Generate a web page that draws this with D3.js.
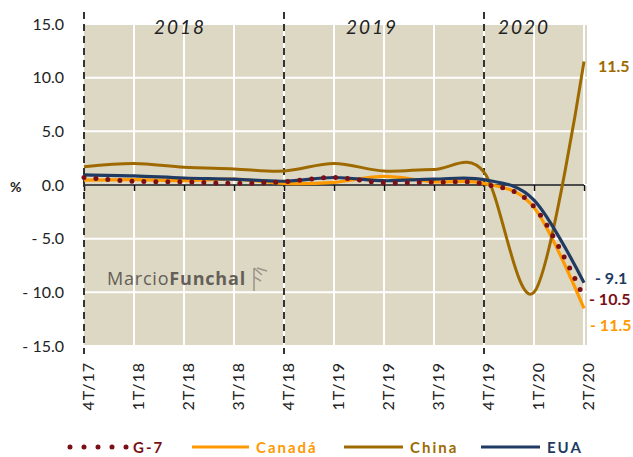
<!DOCTYPE html>
<html><head><meta charset="utf-8">
<script src="https://cdn.jsdelivr.net/npm/d3@7"></script>
<style>body{margin:0;background:#fff}svg{display:block}</style>
</head><body>
<script>
const categories = ["4T/17","1T/18","2T/18","3T/18","4T/18","1T/19","2T/19","3T/19","4T/19","1T/20","2T/20"];
const g7     = [0.7, 0.35, 0.3, 0.15, 0.3, 0.7, 0.2, 0.25, 0.1, -2.0, -10.5];
const canada = [0.45, 0.5, 0.4, 0.55, 0.15, 0.25, 0.8, 0.3, 0.15, -2.1, -11.5];
const china  = [1.7, 2.0, 1.65, 1.5, 1.3, 2.0, 1.3, 1.45, 1.2, -10.0, 11.5];
const eua    = [0.95, 0.85, 0.65, 0.55, 0.35, 0.7, 0.4, 0.55, 0.5, -1.4, -9.1];
const yTicks = [15, 10, 5, 0, -5, -10, -15];
const years = ["2018", "2019", "2020"];
const yearCenters = [[0,4],[4,8],[8,10]];
const seriesNames = ["G-7","Canadá","China","EUA"];

const colors = {g7:"#7a1016", canada:"#ff9900", china:"#9e6a00", eua:"#1f3a63"};

const W=633,H=457;
const svg = d3.select("body").append("svg").attr("width",W).attr("height",H);
const x = d3.scalePoint().domain(categories).range([84,584]);
const y = d3.scaleLinear().domain([-15,15]).range([346,24]);

// plot background
svg.append("rect").attr("x",x(categories[0])).attr("y",y(15))
  .attr("width",x(categories[categories.length-1])-x(categories[0])+3)
  .attr("height",y(-15)-y(15)).attr("fill","#ddd8c4");

// gridlines
svg.append("g").selectAll("line").data(yTicks).join("line")
  .attr("x1",x(categories[0])).attr("x2",x(categories[categories.length-1])+3)
  .attr("y1",d=>y(d)).attr("y2",d=>y(d)).attr("stroke","#fff").attr("stroke-width",2);
svg.append("g").selectAll("line").data(categories.slice(1)).join("line")
  .attr("x1",d=>x(d)).attr("x2",d=>x(d)).attr("y1",y(15)).attr("y2",y(-15))
  .attr("stroke","#fff").attr("stroke-width",2);

// x axis at zero
const xAxis = svg.append("g").attr("transform",`translate(0,${y(0)})`)
  .call(d3.axisBottom(x).tickSize(6).tickFormat(""));
xAxis.select(".domain").attr("stroke","#111").attr("stroke-width",1.5).attr("d",`M${x(categories[0])},0H${x(categories[categories.length-1])}`);
xAxis.selectAll(".tick line").attr("stroke","#111").attr("stroke-width",1.5);

// dashed year separators
svg.append("g").selectAll("line").data(["4T/17","4T/18","4T/19"]).join("line")
  .attr("x1",d=>x(d)).attr("x2",d=>x(d)).attr("y1",12).attr("y2",354)
  .attr("stroke","#333").attr("stroke-width",2).attr("stroke-dasharray","7,5");

// year labels
svg.append("g").selectAll("text").data(years).join("text")
  .attr("x",(d,i)=>(x(categories[yearCenters[i][0]])+x(categories[yearCenters[i][1]]))/2 + (i===2? -10: i===1? -12: -4))
  .attr("y",34).attr("text-anchor","middle")
  .attr("font-family","Lato, 'Open Sans', sans-serif").attr("font-style","italic")
  .attr("font-size",19).attr("letter-spacing",2).attr("fill","#222").text(d=>d);

// y axis labels
const fmt = v => v<0 ? "- "+Math.abs(v).toFixed(1) : v.toFixed(1);
const yAxis = svg.append("g").attr("transform","translate(68,0)")
  .call(d3.axisLeft(y).tickValues(yTicks).tickSize(0).tickPadding(4).tickFormat(fmt));
yAxis.select(".domain").remove();
yAxis.selectAll("text").attr("font-family","Lato, sans-serif").attr("font-size",16).attr("fill","#222");
svg.append("text").attr("x",10).attr("y",192).attr("font-family","Lato, sans-serif")
  .attr("font-weight","bold").attr("font-size",14).attr("fill","#222").text("%");

// x tick labels rotated
svg.append("g").selectAll("text").data(categories).join("text")
  .attr("transform",d=>`translate(${x(d)+4},362) rotate(-90)`)
  .attr("text-anchor","end").attr("dy","0.35em")
  .attr("font-family","Lato, sans-serif").attr("font-size",16).attr("letter-spacing",1)
  .attr("fill","#222").text(d=>d);

// watermark
const wm = svg.append("text").attr("x",107).attr("y",285)
  .attr("font-family","'Open Sans', sans-serif").attr("font-size",18).attr("letter-spacing",0.8)
  .attr("fill","#4f4a44").attr("opacity",0.85);
wm.append("tspan").text("Marcio");
wm.append("tspan").attr("font-weight","bold").text("Funchal");
svg.append("path").attr("d","M254,268V291M254,268L262,275M257,268L267,271M254,277L261,281")
  .attr("stroke","#8a827a").attr("stroke-width",1.5).attr("fill","none").attr("opacity",0.8);

// lines
const line = d3.line().x((d,i)=>x(categories[i])).y(d=>y(d)).curve(d3.curveCardinal.tension(0));
const plot = svg.append("g");
plot.append("path").datum(canada).attr("d",line).attr("fill","none").attr("stroke",colors.canada).attr("stroke-width",3.2);
plot.append("path").datum(china).attr("d",line).attr("fill","none").attr("stroke",colors.china).attr("stroke-width",3);
plot.append("path").datum(eua).attr("d",line).attr("fill","none").attr("stroke",colors.eua).attr("stroke-width",3.2);
plot.append("path").datum(g7).attr("d",line).attr("fill","none").attr("stroke",colors.g7).attr("stroke-width",5)
  .attr("stroke-linecap","round").attr("stroke-dasharray","0,12");

// end labels
const last = categories.length-1;
const endLabels = [
  {v:china[last], c:colors.china, dx:14, dy:10},
  {v:eua[last], c:colors.eua, dx:11, dy:1},
  {v:g7[last], c:colors.g7, dx:5, dy:7},
  {v:canada[last], c:colors.canada, dx:6, dy:23}
];
svg.append("g").selectAll("text").data(endLabels).join("text")
  .attr("x",d=>x(categories[last])+d.dx).attr("y",d=>y(d.v)+d.dy)
  .attr("font-family","Lato, sans-serif").attr("font-weight","bold").attr("font-size",16)
  .attr("fill",d=>d.c).text(d=>fmt(d.v));

// legend
const lg = svg.append("g").attr("font-family","Lato, sans-serif").attr("font-weight","bold")
  .attr("font-size",15).attr("letter-spacing",2);
const legendItems = [
  {n:seriesNames[0], c:colors.g7, x1:70, x2:127, tx:133, dots:true},
  {n:seriesNames[1], c:colors.canada, x1:192, x2:249, tx:256},
  {n:seriesNames[2], c:colors.china, x1:344, x2:403, tx:410},
  {n:seriesNames[3], c:colors.eua, x1:481, x2:540, tx:547}
];
legendItems.forEach(d=>{
  const l = lg.append("line").attr("x1",d.x1).attr("x2",d.x2).attr("y1",447).attr("y2",447).attr("stroke",d.c);
  if(d.dots) l.attr("stroke-width",5).attr("stroke-linecap","round").attr("stroke-dasharray","0,14");
  else l.attr("stroke-width",3);
  lg.append("text").attr("x",d.tx).attr("y",453).attr("fill",d.c).text(d.n);
});
</script>
</body></html>
